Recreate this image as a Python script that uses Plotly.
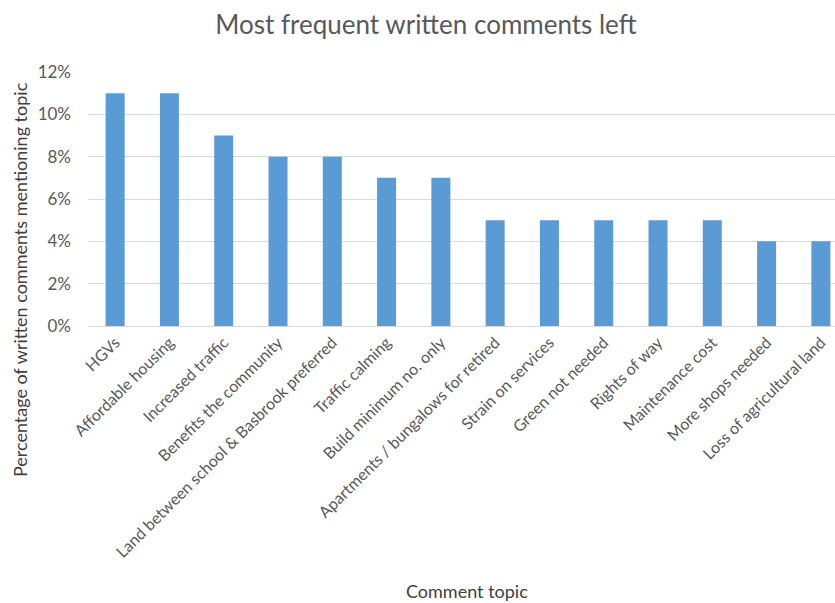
import plotly.graph_objects as go

categories = ["HGVs", "Affordable housing", "Increased traffic", "Benefits the community",
              "Land between school & Basbrook preferred", "Traffic calming",
              "Build minimum no. only", "Apartments / bungalows for retired",
              "Strain on services", "Green not needed", "Rights of way",
              "Maintenance cost", "More shops needed", "Loss of agricultural land"]
values = [0.11, 0.11, 0.09, 0.08, 0.08, 0.07, 0.07, 0.05, 0.05, 0.05, 0.05, 0.05, 0.04, 0.04]
y_ticks = [0, 0.02, 0.04, 0.06, 0.08, 0.10, 0.12]
y_tick_text = ["0%", "2%", "4%", "6%", "8%", "10%", "12%"]

FONT = "Lato"
fig = go.Figure(go.Bar(x=list(range(len(categories))), y=values,
                       marker=dict(color="#5B9BD5", line=dict(width=0)),
                       width=0.35))

fig.update_layout(
    width=835, height=603,
    margin=dict(l=88, r=0, t=72, b=277),
    plot_bgcolor="white", paper_bgcolor="white",
    showlegend=False,
    font=dict(family=FONT, color="#595959"),
    title=dict(text="Most frequent written comments left", x=0.51, xanchor="center",
               y=1 - 25 / 603, yanchor="middle",
               font=dict(family=FONT, size=26, color="#595959")),
)
fig.update_xaxes(tickmode="array", tickvals=list(range(len(categories))), ticktext=categories,
                 tickangle=-45, range=[-0.5, 13.26], showgrid=False, zeroline=False,
                 showline=True, linecolor="#d9d9d9", linewidth=1, ticks="",
                 tickfont=dict(family=FONT, size=16, color="#595959"))
fig.update_yaxes(tickmode="array", tickvals=y_ticks, ticktext=y_tick_text, range=[0, 0.12],
                 showgrid=True, gridcolor="#d9d9d9", gridwidth=1, zeroline=False,
                 showline=False, ticks="", ticklabelstandoff=16,
                 tickfont=dict(family=FONT, size=17, color="#595959"))

fig.add_annotation(text="Comment topic", xref="paper", yref="paper", x=0.507, y=0,
                   yshift=-265, showarrow=False, yanchor="middle",
                   font=dict(family=FONT, size=18, color="#404040"))
fig.add_annotation(text="Percentage of written comments mentioning topic", xref="paper", yref="paper",
                   x=-0.091, y=0.181, textangle=-90, showarrow=False, xanchor="center", yanchor="middle",
                   font=dict(family=FONT, size=18, color="#404040"))

fig.write_html("out.html")
